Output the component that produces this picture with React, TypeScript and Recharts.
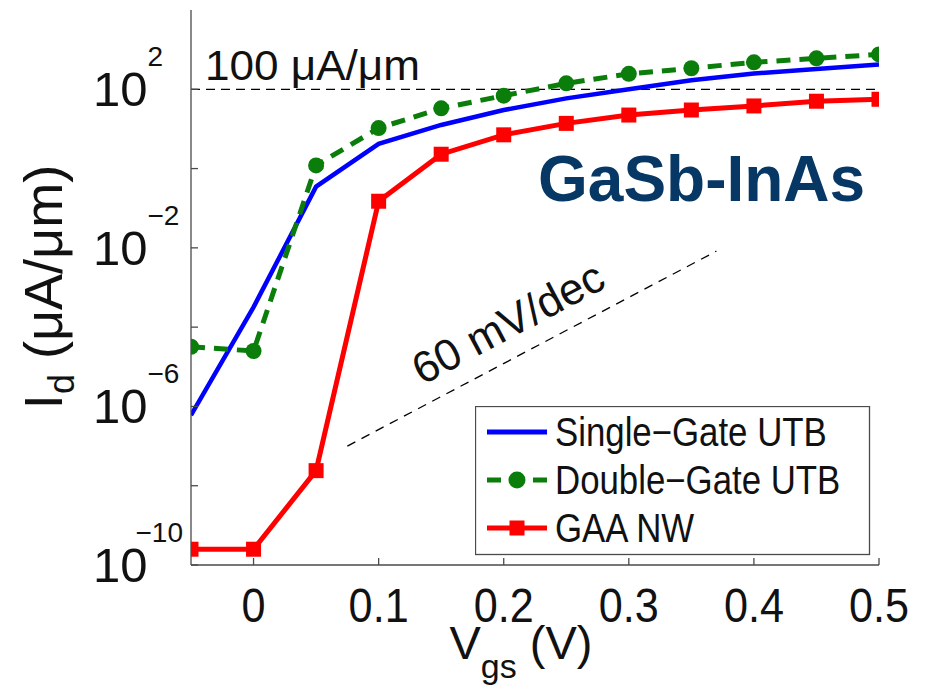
import React from 'react';
import { LineChart, Line, XAxis, YAxis, ReferenceLine, Legend } from 'recharts';

// Id-Vgs transfer curves, three device geometries
const vgs = [-0.05, 0, 0.05, 0.1, 0.15, 0.2, 0.25, 0.3, 0.35, 0.4, 0.45, 0.5];
const singleGateUTB = [6.0e-7, 3.2e-4, 0.35, 4.2, 12.6, 30, 59, 100, 170, 250, 325, 425];
const doubleGateUTB = [3.2e-5, 2.5e-5, 1.2, 10.5, 33, 69, 141, 245, 339, 479, 603, 759];
const gaaNW = [2.5e-10, 2.5e-10, 2.4e-8, 0.15, 2.3, 7.1, 13.8, 22.4, 30, 38, 50, 56];

const xTicks = [0, 0.1, 0.2, 0.3, 0.4, 0.5];
const xTickLabels = ['0', '0.1', '0.2', '0.3', '0.4', '0.5'];
const yTicks = [1e-10, 1e-8, 1e-6, 1e-4, 1e-2, 1, 1e2];
const yTickExponents = ['−10', '', '−6', '', '−2', '', '2'];

const seriesNames = ['Single−Gate UTB', 'Double−Gate UTB', 'GAA NW'];

// 60 mV/dec guide line starting point
const guideStart = { x: 0.075, y: 1e-7 };
const guideEndX = 0.37;

const BLUE = '#0000ff';
const GREEN = '#0a7d0a';
const RED = '#ff0000';
const FRAME = '#4a4a4a';
const INK = '#111111';
const FONT = '"Liberation Sans", Arial, sans-serif';
const TICK_LEN = 7;

const data = vgs.map((v, i) => ({
  vgs: v,
  sg: singleGateUTB[i],
  dg: doubleGateUTB[i],
  gaa: gaaNW[i],
}));

const series = [
  { key: 'sg', name: seriesNames[0], color: BLUE, dash: undefined, marker: 'none' },
  { key: 'dg', name: seriesNames[1], color: GREEN, dash: '14 9', marker: 'circle' },
  { key: 'gaa', name: seriesNames[2], color: RED, dash: undefined, marker: 'square' },
];

const guideEndY = guideStart.y * Math.pow(10, (guideEndX - guideStart.x) / 0.06);

function BottomTick(props: any) {
  const { x, y, index } = props;
  return (
    <g>
      <line x1={x} x2={x} y1={y} y2={y - TICK_LEN} stroke={FRAME} strokeWidth={1.3} />
      <text
        transform={`translate(${x},${y + 57}) scale(0.9,1)`}
        textAnchor="middle"
        fontSize={48}
        fontFamily={FONT}
        fill={INK}
      >
        {xTickLabels[index]}
      </text>
    </g>
  );
}

function TopTick(props: any) {
  const { x, y } = props;
  return <line x1={x} x2={x} y1={y} y2={y + TICK_LEN} stroke={FRAME} strokeWidth={1.3} />;
}

function LeftTick(props: any) {
  const { x, y, index } = props;
  const exp = yTickExponents[index];
  // long exponents sit back over the "0" so they stay clear of the frame
  const shift = exp.length > 2 ? -12 : 0;
  return (
    <g>
      <line x1={x} x2={x + TICK_LEN} y1={y} y2={y} stroke={FRAME} strokeWidth={1.3} />
      {exp && (
        <text x={x - 98} y={y + 17} fontSize={49} fontFamily={FONT} fill={INK}>
          10
          <tspan dx={shift} dy={-40} fontSize={28}>
            {exp}
          </tspan>
        </text>
      )}
    </g>
  );
}

function RightTick(props: any) {
  const { x, y } = props;
  return <line x1={x} x2={x - TICK_LEN} y1={y} y2={y} stroke={FRAME} strokeWidth={1.3} />;
}

function XTitle(props: any) {
  const { viewBox } = props;
  return (
    <text
      x={viewBox.x + 330}
      y={viewBox.y + 94}
      textAnchor="middle"
      fontSize={47}
      fontFamily={FONT}
      fill={INK}
    >
      V
      <tspan fontSize={34} dy={19}>
        gs
      </tspan>
      <tspan dy={-19}> (V)</tspan>
    </text>
  );
}

function YTitle(props: any) {
  const { viewBox } = props;
  return (
    <text
      transform={`translate(62,${viewBox.y + 277}) rotate(-90)`}
      textAnchor="middle"
      fontSize={54}
      fontFamily={FONT}
      fill={INK}
    >
      I
      <tspan fontSize={36} dy={12}>
        d
      </tspan>
      <tspan dy={-12}> (μA/μm)</tspan>
    </text>
  );
}

function SquareDot(props: any) {
  const { cx, cy, index } = props;
  return <rect key={`sq-${index}`} x={cx - 7.5} y={cy - 7.5} width={15} height={15} fill={RED} />;
}

function LegendBox() {
  return (
    <svg width={396} height={150} style={{ display: 'block' }}>
      <rect x={0.5} y={0.5} width={394} height={148} fill="#fff" stroke={FRAME} strokeWidth={1.3} />
      {series.map((s, i) => {
        const cy = 26 + i * 48;
        return (
          <g key={s.key}>
            <line
              x1={12}
              x2={72}
              y1={cy}
              y2={cy}
              stroke={s.color}
              strokeWidth={5}
              strokeDasharray={s.dash}
            />
            {s.marker === 'circle' && <circle cx={42} cy={cy} r={8.5} fill={s.color} />}
            {s.marker === 'square' && <rect x={34.5} y={cy - 7.5} width={15} height={15} fill={s.color} />}
            <text
              transform={`translate(80,${cy + 14}) scale(0.87,1)`}
              fontSize={40}
              fontFamily={FONT}
              fill={INK}
            >
              {s.name}
            </text>
          </g>
        );
      })}
    </svg>
  );
}

export default function App() {
  return (
    <div style={{ position: 'absolute', left: 0, top: 0, width: 926, height: 694, background: '#fff' }}>
      <LineChart width={926} height={694} data={data} margin={{ top: 10, right: 47, bottom: 0, left: 0 }}>
        <XAxis
          dataKey="vgs"
          type="number"
          domain={[-0.05, 0.5]}
          ticks={xTicks}
          interval={0}
          allowDataOverflow
          height={129}
          tickSize={0}
          tickMargin={0}
          tickLine={false}
          axisLine={{ stroke: FRAME, strokeWidth: 1.3 }}
          tick={<BottomTick />}
          label={<XTitle />}
        />
        <XAxis
          xAxisId="top"
          orientation="top"
          dataKey="vgs"
          type="number"
          domain={[-0.05, 0.5]}
          ticks={xTicks}
          interval={0}
          allowDataOverflow
          height={0}
          tickSize={0}
          tickMargin={0}
          tickLine={false}
          axisLine={{ stroke: FRAME, strokeWidth: 1.3 }}
          tick={<TopTick />}
        />
        <YAxis
          type="number"
          scale="log"
          domain={[1e-10, 1e4]}
          ticks={yTicks}
          interval={0}
          allowDataOverflow
          width={191}
          tickSize={0}
          tickMargin={0}
          tickLine={false}
          axisLine={{ stroke: FRAME, strokeWidth: 1.3 }}
          tick={<LeftTick />}
          label={<YTitle />}
        />
        <YAxis
          yAxisId="right"
          orientation="right"
          type="number"
          scale="log"
          domain={[1e-10, 1e4]}
          ticks={yTicks}
          interval={0}
          allowDataOverflow
          width={0}
          tickSize={0}
          tickMargin={0}
          tickLine={false}
          axisLine={{ stroke: FRAME, strokeWidth: 1.3 }}
          tick={<RightTick />}
        />
        <ReferenceLine y={100} stroke="#000" strokeWidth={1.3} strokeDasharray="9 6" />
        <ReferenceLine
          segment={[guideStart, { x: guideEndX, y: guideEndY }]}
          stroke="#000"
          strokeWidth={1.3}
          strokeDasharray="9 7"
        />
        <Line
          dataKey="sg"
          name={seriesNames[0]}
          stroke={BLUE}
          strokeWidth={4.5}
          dot={false}
          isAnimationActive={false}
        />
        <Line
          dataKey="dg"
          name={seriesNames[1]}
          stroke={GREEN}
          strokeWidth={5}
          strokeDasharray="14 9"
          dot={{ r: 8, fill: GREEN, stroke: 'none' }}
          isAnimationActive={false}
        />
        <Line
          dataKey="gaa"
          name={seriesNames[2]}
          stroke={RED}
          strokeWidth={5}
          dot={<SquareDot />}
          isAnimationActive={false}
        />
        <Legend
          layout="vertical"
          align="center"
          verticalAlign="middle"
          content={() => <LegendBox />}
          wrapperStyle={{ left: 475, top: 406, width: 396, height: 150 }}
        />
      </LineChart>
      <svg
        width={926}
        height={694}
        style={{ position: 'absolute', left: 0, top: 0, pointerEvents: 'none' }}
      >
        <text transform="translate(205,80) scale(1.05,1)" fontSize={42} fontFamily={FONT} fill={INK}>
          100 μA/μm
        </text>
        <text
          transform="translate(515,336) rotate(-28)"
          textAnchor="middle"
          fontSize={44}
          fontFamily={FONT}
          fill={INK}
        >
          60 mV/dec
        </text>
        <text x={538} y={201} fontSize={64} fontWeight="bold" fontFamily={FONT} fill="#073764">
          GaSb-InAs
        </text>
      </svg>
    </div>
  );
}
